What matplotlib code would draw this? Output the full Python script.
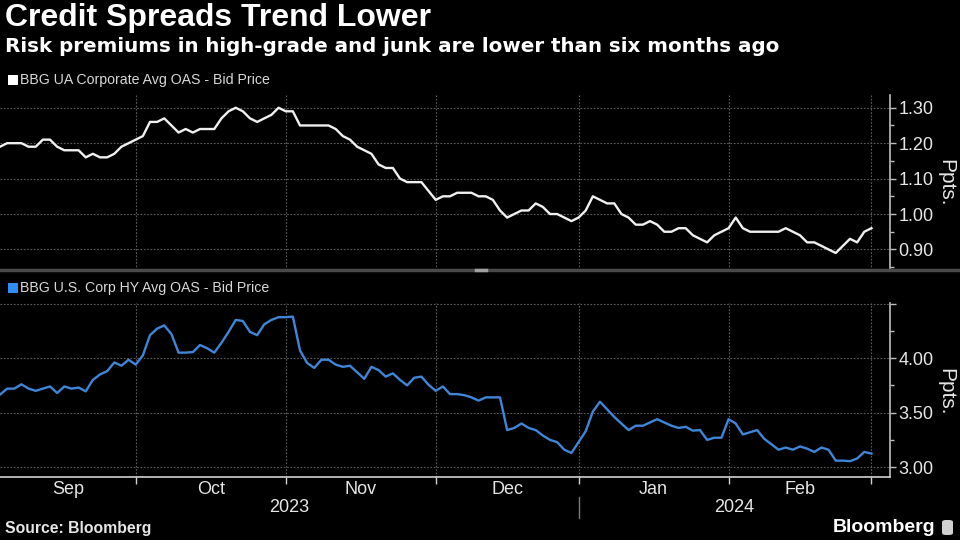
import numpy as np
import matplotlib
matplotlib.use("Agg")
import matplotlib.pyplot as plt
from matplotlib.ticker import MultipleLocator, FixedLocator, FixedFormatter, FormatStrFormatter
from matplotlib.lines import Line2D
from matplotlib.patches import Rectangle, FancyBboxPatch
import matplotlib.transforms as mtransforms

# ---------------- data (trading days, Sep 2023 - Feb 2024) ----------------
ig_oas = [1.19, 1.20, 1.20, 1.20, 1.19, 1.19, 1.21, 1.21, 1.19, 1.18,
          1.18, 1.18, 1.16, 1.17, 1.16, 1.16, 1.17, 1.19, 1.20, 1.21,
          1.22, 1.26, 1.26, 1.27, 1.25, 1.23, 1.24, 1.23, 1.24, 1.24,
          1.24, 1.27, 1.29, 1.30, 1.29, 1.27, 1.26, 1.27, 1.28, 1.30,
          1.29, 1.29, 1.25, 1.25, 1.25, 1.25, 1.25, 1.24, 1.22, 1.21,
          1.19, 1.18, 1.17, 1.14, 1.13, 1.13, 1.10, 1.09, 1.09, 1.09,
          1.065, 1.04, 1.05, 1.05, 1.06, 1.06, 1.06, 1.05, 1.05, 1.04,
          1.01, 0.99, 1.00, 1.01, 1.01, 1.03, 1.02, 1.00, 1.00, 0.99,
          0.98, 0.99, 1.01, 1.05, 1.04, 1.03, 1.03, 1.00, 0.99, 0.97,
          0.97, 0.98, 0.97, 0.95, 0.95, 0.96, 0.96, 0.94, 0.93, 0.92,
          0.94, 0.95, 0.96, 0.99, 0.96, 0.95, 0.95, 0.95, 0.95, 0.95,
          0.96, 0.95, 0.94, 0.92, 0.92, 0.91, 0.90, 0.89, 0.91, 0.93,
          0.92, 0.95, 0.96]

hy_oas = [3.665, 3.72, 3.72, 3.76, 3.72, 3.70, 3.72, 3.74, 3.68, 3.74,
          3.72, 3.73, 3.695, 3.80, 3.85, 3.88, 3.96, 3.93, 3.985, 3.94,
          4.025, 4.21, 4.27, 4.30, 4.22, 4.05, 4.05, 4.055, 4.12, 4.09,
          4.05, 4.14, 4.24, 4.35, 4.34, 4.24, 4.21, 4.31, 4.35, 4.375,
          4.375, 4.38, 4.07, 3.955, 3.91, 3.985, 3.985, 3.94, 3.92, 3.93,
          3.87, 3.81, 3.92, 3.89, 3.83, 3.86, 3.80, 3.75, 3.82, 3.83,
          3.755, 3.70, 3.74, 3.67, 3.67, 3.66, 3.64, 3.61, 3.64, 3.64,
          3.64, 3.34, 3.36, 3.40, 3.36, 3.34, 3.29, 3.25, 3.23, 3.16,
          3.13, 3.23, 3.33, 3.51, 3.60, 3.53, 3.46, 3.40, 3.34, 3.38,
          3.38, 3.41, 3.44, 3.41, 3.38, 3.36, 3.37, 3.335, 3.34, 3.25,
          3.27, 3.27, 3.44, 3.40, 3.30, 3.32, 3.34, 3.26, 3.21, 3.16,
          3.18, 3.16, 3.19, 3.17, 3.14, 3.18, 3.16, 3.06, 3.06, 3.055,
          3.08, 3.14, 3.125]

months = ["Sep", "Oct", "Nov", "Dec", "Jan", "Feb"]
month_starts = [0, 19, 40, 61, 81, 102, 122]   # trading-day index of month boundaries
years = ["2023", "2024"]
ig_label = "BBG UA Corporate Avg OAS - Bid Price"
hy_label = "BBG U.S. Corp HY Avg OAS - Bid Price"

# ---------------- styling ----------------
BG = "black"
FG = "#e6e6e6"
GRID = "#5e5e5e"
AXC = "#bdbdbd"
WHITE_LINE = "#f0f0f0"
BLUE_LINE = "#3f86d8"
BLUE_BOX = "#2f8cf0"
plt.rcParams["font.family"] = ["Liberation Sans", "DejaVu Sans"]

W, H = 960, 540
fig = plt.figure(figsize=(9.6, 5.4), dpi=100, facecolor=BG)


def rect(l, t, r, b):
    return [l / W, 1 - b / H, (r - l) / W, (b - t) / H]


ax1 = fig.add_axes(rect(0, 95, 890, 270))
ax2 = fig.add_axes(rect(0, 303, 890, 477))

x = np.arange(len(ig_oas))
xmax = 124.6

for ax in (ax1, ax2):
    ax.set_facecolor(BG)
    ax.set_xlim(0, xmax)
    for s in ("top", "left"):
        ax.spines[s].set_visible(False)
    ax.spines["right"].set_color(AXC)
    ax.spines["right"].set_linewidth(1.2)
    ax.yaxis.tick_right()
    ax.tick_params(axis="y", which="major", direction="out", length=4, width=1,
                   color=AXC, labelcolor=FG, labelsize=13, pad=2)
    ax.tick_params(axis="y", which="minor", direction="out", length=3, width=1,
                   color=AXC)
    ax.grid(axis="y", which="major", color=GRID, linestyle=(0, (1.5, 1.5)), linewidth=0.8)
    for b in month_starts[1:]:
        ax.axvline(b, color=GRID, linestyle=(0, (1.5, 1.5)), linewidth=0.8, zorder=0)

ax1.spines["bottom"].set_visible(False)
ax1.tick_params(axis="x", which="both", length=0, labelbottom=False)

ax2.spines["bottom"].set_color("#d0d0d0")
ax2.spines["bottom"].set_linewidth(1.2)
ax2.set_xticks(month_starts[1:])
ax2.tick_params(axis="x", which="major", direction="out", length=5, width=1,
                color="#d0d0d0", labelbottom=False)

# top panel
ax1.plot(x, ig_oas, color=WHITE_LINE, linewidth=1.7, solid_joinstyle="round")
ax1.set_ylim(0.842, 1.336)
ax1.yaxis.set_major_locator(MultipleLocator(0.1))
ax1.yaxis.set_minor_locator(MultipleLocator(0.05))
ax1.yaxis.set_major_formatter(FormatStrFormatter("%.2f"))

# bottom panel
ax2.plot(x, hy_oas, color=BLUE_LINE, linewidth=1.7, solid_joinstyle="round")
ax2.set_ylim(2.91, 4.505)
ax2.yaxis.set_major_locator(FixedLocator([3.0, 3.5, 4.0, 4.5]))
ax2.yaxis.set_major_formatter(FixedFormatter(["3.00", "3.50", "4.00", ""]))
ax2.yaxis.set_minor_locator(FixedLocator([3.25, 3.75, 4.25]))

# axis unit labels
fig.text(946 / W, 1 - 183 / H, "Ppts.", rotation=-90, ha="center", va="center",
         color=FG, fontsize=15)
fig.text(946 / W, 1 - 392 / H, "Ppts.", rotation=-90, ha="center", va="center",
         color=FG, fontsize=15)

# month and year labels
tr = mtransforms.blended_transform_factory(ax2.transData, fig.transFigure)
for i, m in enumerate(months):
    xm = (month_starts[i] + month_starts[i + 1]) / 2
    fig.text(xm, 1 - 489 / H, m, transform=tr, ha="center", va="center",
             color=FG, fontsize=13)
year_mid = [(month_starts[0] + month_starts[4]) / 2, (month_starts[4] + xmax) / 2]
for xm, y in zip(year_mid, years):
    fig.text(xm, 1 - 508 / H, y, transform=tr, ha="center", va="center",
             color=FG, fontsize=13)
fig.add_artist(Line2D([month_starts[4], month_starts[4]], [1 - 497 / H, 1 - 518 / H],
                      transform=tr, color="#7a7a7a", linewidth=1))

# panel separator
fig.add_artist(Line2D([0, 1], [1 - 270 / H] * 2, transform=fig.transFigure,
                      color="#4a4a4a", linewidth=2.5))
fig.add_artist(Line2D([476 / W, 486 / W], [1 - 270 / H] * 2, transform=fig.transFigure,
                      color="#a0a0a0", linewidth=2.5))

# legends
fig.add_artist(Rectangle((8 / W, 1 - 85 / H), 10 / W, 10 / H, transform=fig.transFigure,
                         facecolor="white", edgecolor="none"))
fig.text(20 / W, 1 - 80 / H, ig_label, ha="left", va="center", color="#d8d8d8", fontsize=10.2)
fig.add_artist(Rectangle((8 / W, 1 - 293 / H), 10 / W, 10 / H, transform=fig.transFigure,
                         facecolor=BLUE_BOX, edgecolor="none"))
fig.text(20 / W, 1 - 288 / H, hy_label, ha="left", va="center", color="#d8d8d8", fontsize=10.2)

# titles
fig.text(5 / W, 1 - 3 / H, "Credit Spreads Trend Lower", ha="left", va="top",
         color="white", fontsize=23, fontweight="bold")
fig.text(5 / W, 1 - 37 / H, "Risk premiums in high-grade and junk are lower than six months ago",
         ha="left", va="top", color="white", fontsize=14.3, fontweight="bold",
         family=["DejaVu Sans"])

# footer
fig.text(5 / W, 1 - 528 / H, "Source: Bloomberg", ha="left", va="center",
         color=FG, fontsize=11.3, fontweight="bold")
fig.text(935 / W, 1 - 527 / H, "Bloomberg", ha="right", va="center",
         color="white", fontsize=14, fontweight="bold")
fig.add_artist(FancyBboxPatch((942 / W, 1 - 535 / H), 11 / W, 15 / H,
                              boxstyle="round,pad=0,rounding_size=0.004",
                              transform=fig.transFigure, facecolor="#d0d0d0",
                              edgecolor="none"))

fig.savefig("out.png", dpi=100, facecolor=BG)
